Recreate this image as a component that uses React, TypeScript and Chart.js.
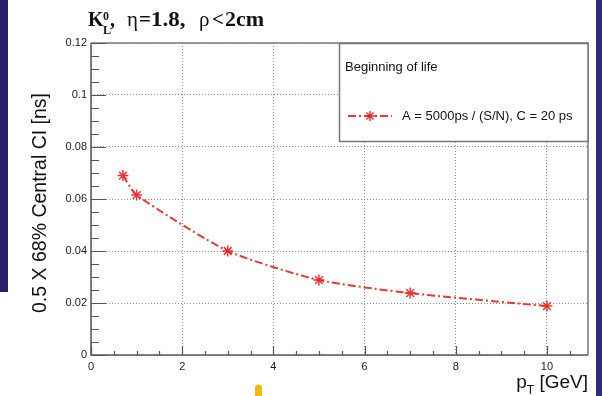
import React, { useEffect, useRef } from "react";
import { Chart, registerables } from "chart.js";

Chart.register(...registerables);

const ptValues = [0.7, 1, 3, 5, 7, 10];
const ciValues = [0.069, 0.0615, 0.04, 0.0288, 0.0238, 0.0188];
const xTicks = [0, 2, 4, 6, 8, 10];
const yTicks = [0, 0.02, 0.04, 0.06, 0.08, 0.1, 0.12];
const xMinorTicks = [0.5, 1, 1.5, 2.5, 3, 3.5, 4.5, 5, 5.5, 6.5, 7, 7.5, 8.5, 9, 9.5, 10.5];
const yMinorTicks = [0.005, 0.01, 0.015, 0.025, 0.03, 0.035, 0.045, 0.05, 0.055, 0.065, 0.07, 0.075, 0.085, 0.09, 0.095, 0.105, 0.11, 0.115];
const seriesLabel = "A = 5000ps / (S/N), C = 20 ps";
const legendHeader = "Beginning of life";
const yTitle = "0.5 X 68% Central CI [ns]";

const SANS = "'Liberation Sans', Arial, Helvetica, sans-serif";
const SERIF = "'Liberation Serif', 'Times New Roman', serif";
const RED = "rgba(236,38,38,0.92)";
const DASH = [8, 3, 2, 3];

function drawStar(ctx: CanvasRenderingContext2D, x: number, y: number, r: number) {
  ctx.save();
  ctx.strokeStyle = RED;
  ctx.lineWidth = 1.5;
  ctx.setLineDash([]);
  ctx.beginPath();
  ctx.moveTo(x - r, y);
  ctx.lineTo(x + r, y);
  ctx.moveTo(x, y - r);
  ctx.lineTo(x, y + r);
  const d = r * 0.707;
  ctx.moveTo(x - d, y - d);
  ctx.lineTo(x + d, y + d);
  ctx.moveTo(x - d, y + d);
  ctx.lineTo(x + d, y - d);
  ctx.stroke();
  ctx.restore();
}

function textAt(ctx: CanvasRenderingContext2D, s: string, x: number, y: number, font: string, sx = 1) {
  ctx.save();
  ctx.font = font;
  ctx.translate(x, y);
  ctx.scale(sx, 1);
  ctx.fillText(s, 0, 0);
  ctx.restore();
}

const decoPlugin = {
  id: "deco",
  beforeDraw(chart: any) {
    const ctx = chart.ctx as CanvasRenderingContext2D;
    ctx.save();
    ctx.fillStyle = "#ffffff";
    ctx.fillRect(0, 0, chart.width, chart.height);
    ctx.fillStyle = "#281e6c";
    ctx.fillRect(0, 0, 8, 292);
    ctx.fillStyle = "#2a2c7c";
    ctx.fillRect(596, 0, 6, chart.height);
    ctx.restore();
  },
  afterDraw(chart: any) {
    const ctx = chart.ctx as CanvasRenderingContext2D;
    const { left, right, top, bottom } = chart.chartArea;
    const xs = chart.scales.x;
    const ys = chart.scales.y;
    ctx.save();
    // frame
    ctx.setLineDash([]);
    ctx.strokeStyle = "#7a7a7a";
    ctx.lineWidth = 1.5;
    ctx.beginPath();
    ctx.moveTo(left, top);
    ctx.lineTo(right, top);
    ctx.lineTo(right, bottom);
    ctx.stroke();
    ctx.strokeStyle = "#555555";
    ctx.beginPath();
    ctx.moveTo(left, top);
    ctx.lineTo(left, bottom);
    ctx.lineTo(right, bottom);
    ctx.stroke();
    // inward ticks
    ctx.lineWidth = 1.2;
    ctx.beginPath();
    xTicks.forEach((v) => {
      const px = Math.round(xs.getPixelForValue(v)) + 0.5;
      ctx.moveTo(px, bottom);
      ctx.lineTo(px, bottom - 9);
    });
    xMinorTicks.forEach((v) => {
      const px = Math.round(xs.getPixelForValue(v)) + 0.5;
      ctx.moveTo(px, bottom);
      ctx.lineTo(px, bottom - 4);
    });
    yTicks.forEach((v) => {
      const py = Math.round(ys.getPixelForValue(v)) + 0.5;
      ctx.moveTo(left, py);
      ctx.lineTo(left + 15, py);
    });
    yMinorTicks.forEach((v) => {
      const py = Math.round(ys.getPixelForValue(v)) + 0.5;
      ctx.moveTo(left, py);
      ctx.lineTo(left + 8, py);
    });
    ctx.stroke();

    // legend box
    const lx = 339.5, ly = 43.5, lw = right - 339.5, lh = 98;
    ctx.fillStyle = "#ffffff";
    ctx.fillRect(lx, ly, lw, lh);
    ctx.strokeStyle = "#777777";
    ctx.lineWidth = 1.5;
    ctx.strokeRect(lx, ly, lw, lh);
    ctx.fillStyle = "#111111";
    ctx.font = `13px ${SANS}`;
    ctx.textAlign = "left";
    ctx.textBaseline = "middle";
    ctx.fillText(legendHeader, 345, 67);
    ctx.strokeStyle = RED;
    ctx.lineWidth = 2;
    ctx.setLineDash(DASH);
    ctx.beginPath();
    ctx.moveTo(348, 116);
    ctx.lineTo(392, 116);
    ctx.stroke();
    ctx.setLineDash([]);
    drawStar(ctx, 370, 116, 5);
    ctx.fillStyle = "#111111";
    ctx.fillText(seriesLabel, 402, 116);

    // title
    ctx.textBaseline = "alphabetic";
    ctx.textAlign = "left";
    ctx.fillStyle = "#111111";
    const TB = `bold 20px ${SERIF}`;
    const TN = `20px ${SERIF}`;
    textAt(ctx, "K", 88, 26, TB);
    textAt(ctx, "0", 103, 20, `bold 12px ${SERIF}`);
    textAt(ctx, "L", 103, 34, `bold 12px ${SERIF}`);
    textAt(ctx, ",", 110, 26, TB);
    textAt(ctx, "\u03b7", 127, 26, TN, 1.05);
    textAt(ctx, "=", 139, 26, TB, 1.05);
    textAt(ctx, "1.8,", 151, 26, TB, 1.15);
    textAt(ctx, "\u03c1", 199, 26, TN, 1.05);
    textAt(ctx, "<", 212, 26, TB, 1.05);
    textAt(ctx, "2cm", 225, 26, TB, 1.1);

    // y title
    ctx.save();
    ctx.translate(46, 203);
    ctx.rotate(-Math.PI / 2);
    ctx.font = `19.5px ${SANS}`;
    ctx.textAlign = "center";
    ctx.textBaseline = "alphabetic";
    ctx.fillStyle = "#111111";
    ctx.fillText(yTitle, 0, 0);
    ctx.restore();

    // x title: p_T [GeV]
    ctx.font = `19px ${SANS}`;
    const restW = ctx.measureText(" [GeV]").width;
    const pW = ctx.measureText("p").width;
    ctx.font = `12px ${SANS}`;
    const tW = ctx.measureText("T").width;
    const x0 = 588 - restW - tW - pW;
    ctx.fillStyle = "#111111";
    ctx.font = `19px ${SANS}`;
    ctx.textAlign = "left";
    ctx.fillText("p", x0, 388);
    ctx.font = `12px ${SANS}`;
    ctx.fillText("T", x0 + pW, 394);
    ctx.font = `19px ${SANS}`;
    ctx.fillText(" [GeV]", x0 + pW + tW, 388);

    // yellow mark
    ctx.strokeStyle = "#f5b80c";
    ctx.lineWidth = 7;
    ctx.lineCap = "round";
    ctx.beginPath();
    ctx.moveTo(258.5, 388);
    ctx.lineTo(258.5, 402);
    ctx.stroke();
    ctx.restore();
  },
};

export default function App() {
  const ref = useRef<HTMLCanvasElement | null>(null);
  useEffect(() => {
    if (!ref.current) return;
    const chart = new Chart(ref.current, {
      type: "line",
      data: {
        datasets: [
          {
            label: seriesLabel,
            data: ptValues.map((x, i) => ({ x, y: ciValues[i] })),
            borderColor: RED,
            borderWidth: 2,
            borderDash: DASH,
            tension: 0.2,
            fill: false,
            pointStyle: "star",
            pointRadius: 5.5,
            pointBorderWidth: 1.5,
            pointBorderColor: RED,
            pointBackgroundColor: RED,
          },
        ],
      },
      options: {
        animation: false,
        responsive: false,
        maintainAspectRatio: false,
        layout: { padding: { left: 0, right: 14, top: 43, bottom: 0 } },
        plugins: {
          legend: { display: false },
          tooltip: { enabled: false },
          title: { display: false },
        },
        scales: {
          x: {
            type: "linear",
            min: 0,
            max: 10.9,
            afterBuildTicks: (s: any) => {
              s.ticks = xTicks.map((v) => ({ value: v }));
            },
            afterFit: (s: any) => {
              s.height = 41;
            },
            grid: { color: "#8c8c8c", lineWidth: 1, drawTicks: false },
            border: { display: false, dash: [1, 2] },
            ticks: {
              padding: 5,
              autoSkip: false,
              maxRotation: 0,
              color: "#222222",
              font: { family: SANS, size: 11 },
              callback: (v: any) => String(+Number(v).toFixed(4)),
            },
          },
          y: {
            type: "linear",
            min: 0,
            max: 0.12,
            afterBuildTicks: (s: any) => {
              s.ticks = yTicks.map((v) => ({ value: v }));
            },
            afterFit: (s: any) => {
              s.width = 91;
            },
            grid: { color: "#8c8c8c", lineWidth: 1, drawTicks: false },
            border: { display: false, dash: [1, 2] },
            ticks: {
              padding: 4,
              autoSkip: false,
              color: "#222222",
              font: { family: SANS, size: 11 },
              callback: (v: any) => String(+Number(v).toFixed(4)),
            },
          },
        },
      },
      plugins: [decoPlugin],
    } as any);
    return () => chart.destroy();
  }, []);
  return (
    <div style={{ position: "absolute", left: 0, top: 0, width: 602, height: 396 }}>
      <canvas ref={ref} width={602} height={396} style={{ width: 602, height: 396 }} />
    </div>
  );
}
